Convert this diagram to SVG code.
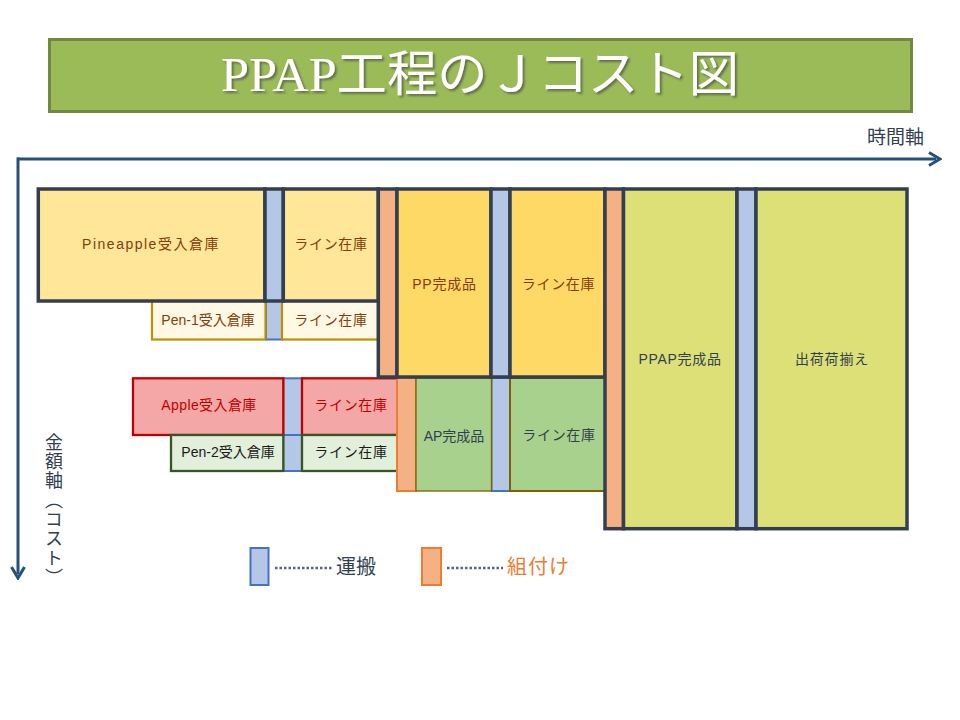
<svg xmlns="http://www.w3.org/2000/svg" width="960" height="720" viewBox="0 0 960 720">
<defs>
<marker id="chev" markerUnits="userSpaceOnUse" markerWidth="14" markerHeight="16" viewBox="0 0 14 16" refX="8" refY="8" orient="auto"><path d="M1,1.5 L12,8 L1,14.5" fill="none" stroke="#24507D" stroke-width="3"/></marker>
<filter id="shadow" x="-5%" y="-20%" width="110%" height="150%"><feDropShadow dx="2" dy="2" stdDeviation="1" flood-color="#3A3A3A" flood-opacity="0.6"/></filter>
<style>
.dk{stroke:#333F50;stroke-width:3.5}
.bl{fill:#B4C7E7}
.blo{fill:#B4C7E7;stroke:#4472C4;stroke-width:2}
.or{fill:#F4B183}
.y1{fill:#FFE699}
.y2{fill:#FFD966}
.ol{fill:#DCE076}
.p1{fill:#FFF8E5;stroke:#BF9000;stroke-width:2.2}
.ap{fill:#F4A7A7;stroke:#C00000;stroke-width:2.3}
.p2{fill:#E2EFDA;stroke:#375623;stroke-width:2.3}
.gr{fill:#A9D18E;stroke:#7F6000}
.t{font-family:'Liberation Sans','Noto Sans CJK JP',sans-serif;font-size:14px;text-anchor:middle}
.br{fill:#843C0C}
.rd{fill:#C00000}
.bk{fill:#1A1A1A}
.nv{fill:#333F50}
.ax{stroke:#24507D;stroke-width:3;fill:none}
.dot{stroke:#5B6577;stroke-width:2.5;stroke-dasharray:2.5 2;fill:none}
</style>
</defs>
<rect width="960" height="720" fill="#FFFFFF"/>

<g id="title">
<rect x="49.5" y="39.5" width="862" height="72" fill="#9BBB59" stroke="#71893F" stroke-width="3"/>
<text x="480" y="91" font-family="'Liberation Serif','Noto Sans CJK JP',serif" font-size="49" text-anchor="middle" textLength="518" lengthAdjust="spacingAndGlyphs" fill="#FFFFFF" filter="url(#shadow)">PPAP工程のＪコスト図</text>
</g>

<g id="connectors">
<line class="ax" x1="17" y1="159" x2="936" y2="159" marker-end="url(#chev)"/>
<line class="ax" x1="18" y1="157.5" x2="18" y2="574" marker-end="url(#chev)"/>
<line class="dot" x1="275" y1="568" x2="332" y2="568"/>
<line class="dot" x1="447" y1="568" x2="503" y2="568"/>
</g>

<g id="axis-labels">
<text x="867" y="144" font-family="'Liberation Sans','Noto Sans CJK JP',sans-serif" font-size="19" fill="#333F50">時間軸</text>
<text x="52" y="433" font-family="'Liberation Sans','Noto Sans CJK JP',sans-serif" font-size="18" letter-spacing="1.3" fill="#333F50" style="writing-mode:vertical-rl">金額軸（コスト）</text>
</g>

<!-- Pen-1 row -->
<g id="transport-pen1"><rect class="blo" x="266" y="301" width="16" height="38.5"/></g>
<g id="pen1-warehouse"><rect class="p1" x="152" y="301" width="113.5" height="38.5"/><text class="t br" x="208" y="325">Pen-1受入倉庫</text></g>
<g id="pen1-line"><rect class="p1" x="282" y="301" width="96" height="38.5"/><text class="t br" x="331" y="325" letter-spacing="0.7">ライン在庫</text></g>

<!-- Apple / Pen-2 rows -->
<g id="transport-apple"><rect class="blo" x="283.3" y="378.3" width="18.7" height="56.7"/></g>
<g id="transport-pen2"><rect class="blo" x="283.3" y="435" width="18.7" height="36"/></g>
<g id="apple-warehouse"><rect class="ap" x="133" y="378.3" width="150.3" height="56.7"/><text class="t rd" x="209" y="410" letter-spacing="0.4">Apple受入倉庫</text></g>
<g id="apple-line"><rect class="ap" x="302" y="378.3" width="95.3" height="56.7"/><text class="t rd" x="351" y="410" letter-spacing="0.7">ライン在庫</text></g>
<g id="pen2-warehouse"><rect class="p2" x="171" y="435" width="112.3" height="36"/><text class="t bk" x="228" y="457">Pen-2受入倉庫</text></g>
<g id="pen2-line"><rect class="p2" x="302" y="435" width="95.3" height="36"/><text class="t bk" x="351" y="457" letter-spacing="0.7">ライン在庫</text></g>

<!-- AP row -->
<g id="assembly-ap"><rect class="or" x="397" y="378" width="19" height="113" stroke="#ED7D31" stroke-width="2"/></g>
<g id="transport-ap"><rect class="blo" x="491.5" y="378" width="18.5" height="113"/></g>
<g id="ap-finished"><rect class="gr" x="416" y="378" width="75.5" height="113" stroke-width="1.3"/><text class="t nv" x="454" y="441" font-size="16">AP完成品</text></g>
<g id="ap-line"><rect class="gr" x="510" y="378" width="95" height="113" stroke-width="2"/><text class="t nv" x="559" y="440" letter-spacing="0.7">ライン在庫</text></g>

<!-- Top group -->
<g id="pineapple-warehouse"><rect class="y1 dk" x="38.3" y="189" width="226.7" height="112"/><text class="t br" x="151" y="249" letter-spacing="1.5">Pineapple受入倉庫</text></g>
<g id="transport-pineapple"><rect class="bl dk" x="265" y="189" width="18.3" height="112"/></g>
<g id="pineapple-line"><rect class="y1 dk" x="283.3" y="189" width="95" height="112"/><text class="t br" x="331" y="249" letter-spacing="0.7">ライン在庫</text></g>
<g id="assembly-pp"><rect class="or dk" x="378.3" y="189" width="18.7" height="188"/></g>
<g id="pp-finished"><rect class="y2 dk" x="397" y="189" width="94" height="188"/><text class="t br" x="444.5" y="289" letter-spacing="0.8">PP完成品</text></g>
<g id="transport-pp"><rect class="bl dk" x="491" y="189" width="19" height="188"/></g>
<g id="pp-line"><rect class="y2 dk" x="510" y="189" width="95" height="188"/><text class="t br" x="558.5" y="289" letter-spacing="0.7">ライン在庫</text></g>
<g id="assembly-ppap"><rect class="or dk" x="605" y="189" width="18.5" height="339.7"/></g>
<g id="ppap-finished"><rect class="ol dk" x="623.5" y="189" width="113.5" height="339.7"/><text class="t nv" x="680" y="364" font-size="15" letter-spacing="0.7">PPAP完成品</text></g>
<g id="transport-ppap"><rect class="bl dk" x="737" y="189" width="19" height="339.7"/></g>
<g id="shipping"><rect class="ol dk" x="756" y="189" width="151" height="339.7"/><text class="t nv" x="832" y="364" font-size="15" letter-spacing="0.8">出荷荷揃え</text></g>

<!-- Legend -->
<g id="legend-transport"><rect class="blo" x="250.5" y="548" width="18" height="37"/><text x="336" y="574" font-family="'Liberation Sans','Noto Sans CJK JP',sans-serif" font-size="20" fill="#333F50">運搬</text></g>
<g id="legend-assembly"><rect class="or" x="422" y="548" width="19" height="37" stroke="#ED7D31" stroke-width="2"/><text x="507" y="574" font-family="'Liberation Sans','Noto Sans CJK JP',sans-serif" font-size="20" fill="#ED7D31" letter-spacing="1">組付け</text></g>
</svg>
